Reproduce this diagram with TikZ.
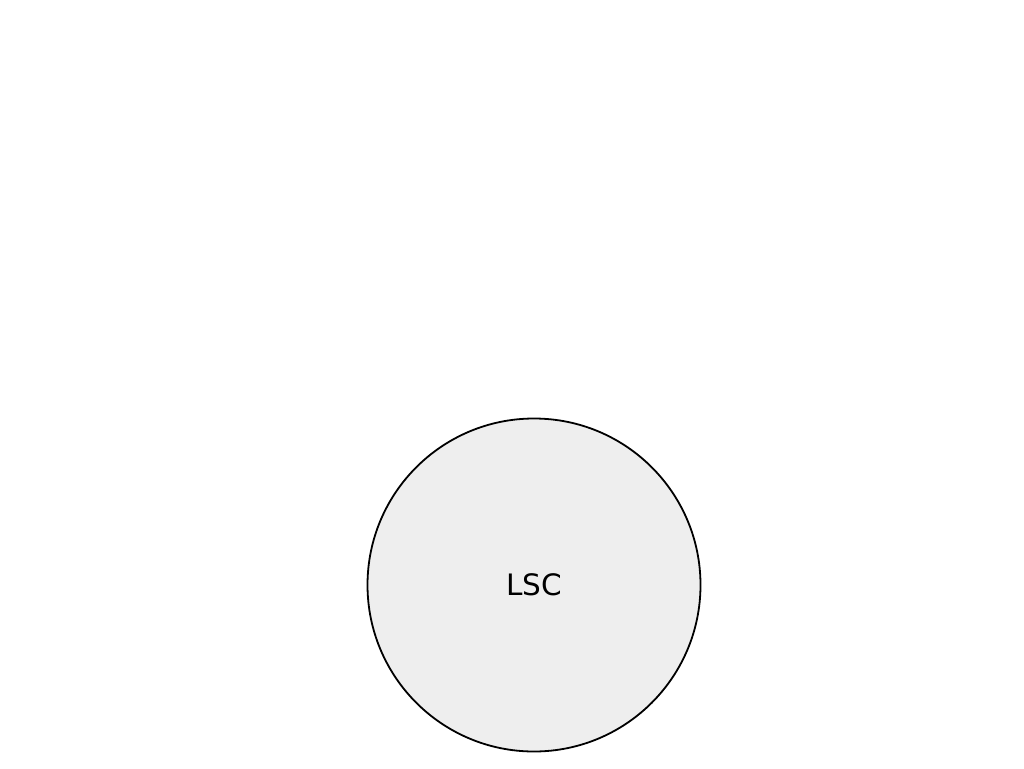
\documentclass[tikz,border=0pt]{standalone}
\usepackage{fontspec}
\setmainfont{DejaVu Sans}
\definecolor{nodefill}{HTML}{EEEEEE}
\tikzset{
  circ/.style={circle, draw=black, line width=1.8pt, fill=nodefill, minimum size=333pt, inner sep=0pt, font=\fontsize{29.5}{33}\selectfont},
}
\begin{document}
\begin{tikzpicture}[x=1pt,y=-1pt]
\useasboundingbox (0,0) rectangle (1024,768);
\node[circ] (lsc) at (534,585) {LSC};
\end{tikzpicture}
\end{document}
